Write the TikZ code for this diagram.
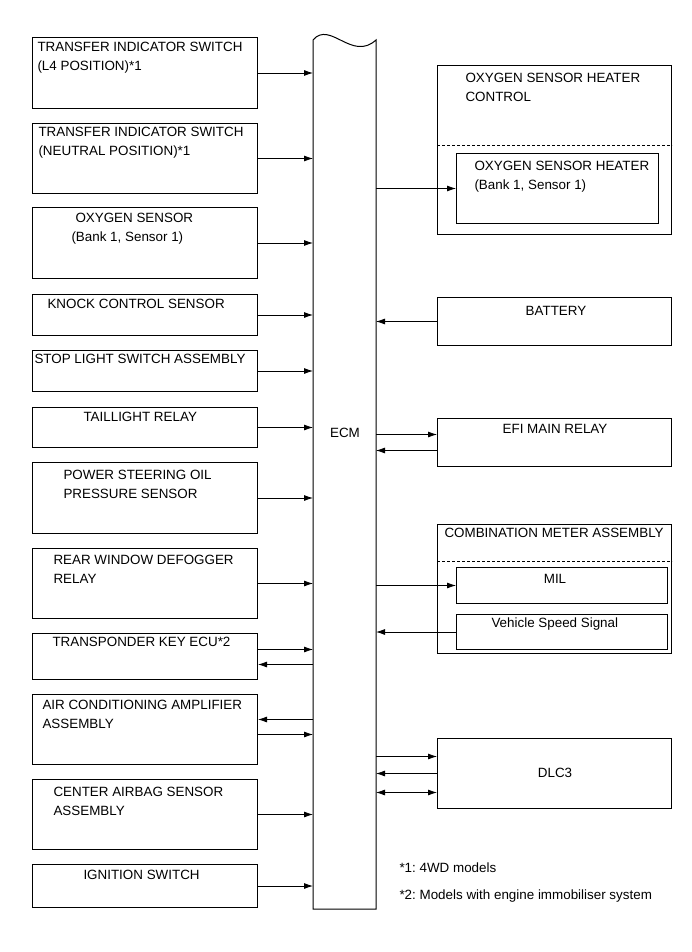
\documentclass[tikz,border=0pt]{standalone}
\usepackage{fontspec}
\setmainfont{Liberation Sans}
\usetikzlibrary{arrows.meta}
\frenchspacing

\begin{document}
\begin{tikzpicture}[x=1pt, y=-1pt, line width=1pt,
  every node/.style={font=\fontsize{13.4}{18.5}\selectfont},
  unit/.style={draw, anchor=north west, inner sep=0, minimum width=225},
  runit/.style={draw, anchor=north west, inner sep=0, minimum width=234},
  subunit/.style={draw, anchor=north west, inner sep=0},
  txt/.style={anchor=north west, inner sep=0, align=left},
  ctxt/.style={anchor=north, inner sep=0},
  sig/.style={-{Latex[length=9pt,width=6pt]}, line width=0.8pt},
  sigboth/.style={{Latex[length=9pt,width=6pt]}-{Latex[length=9pt,width=6pt]}, line width=0.8pt},
  sep/.style={dash pattern=on 3pt off 2pt, line width=0.8pt}]
  \useasboundingbox (0,0) rectangle (691,952);

  % inputs on the left
  \node[unit, minimum height=71] (tisl4) at (32,37) {};
  \node[txt] (tisl4-t) at (37,42) {TRANSFER INDICATOR SWITCH\\(L4 POSITION)*1};
  \node[unit, minimum height=70] (tisn) at (32,123) {};
  \node[txt] (tisn-t) at (38,127) {TRANSFER INDICATOR SWITCH\\(NEUTRAL POSITION)*1};
  \node[unit, minimum height=71] (oxs) at (32,207) {};
  \node[txt] (oxs-t) at (71,213) {\hspace*{4pt}OXYGEN SENSOR\\(Bank 1, Sensor 1)};
  \node[unit, minimum height=41] (kcs) at (32,294) {};
  \node[txt] (kcs-t) at (47,299) {KNOCK CONTROL SENSOR};
  \node[unit, minimum height=41] (stop) at (32,350) {};
  \node[txt] (stop-t) at (34,354) {STOP LIGHT SWITCH ASSEMBLY};
  \node[unit, minimum height=40] (tail) at (32,407) {};
  \node[txt] (tail-t) at (83,412) {TAILLIGHT RELAY};
  \node[unit, minimum height=71] (pso) at (32,462) {};
  \node[txt] (pso-t) at (63,470) {POWER STEERING OIL\\PRESSURE SENSOR};
  \node[unit, minimum height=70] (defog) at (32,548) {};
  \node[txt] (defog-t) at (53,555) {REAR WINDOW DEFOGGER\\RELAY};
  \node[unit, minimum height=46] (tkey) at (32,633) {};
  \node[txt] (tkey-t) at (52,637) {TRANSPONDER KEY ECU*2};
  \node[unit, minimum height=70] (acamp) at (32,694) {};
  \node[txt] (acamp-t) at (42,700) {AIR CONDITIONING AMPLIFIER\\ASSEMBLY};
  \node[unit, minimum height=70] (airbag) at (32,779) {};
  \node[txt] (airbag-t) at (53,787) {CENTER AIRBAG SENSOR\\ASSEMBLY};
  \node[unit, minimum height=43] (ign) at (32,864) {};
  \node[txt] (ign-t) at (83,870) {IGNITION SWITCH};

  % ECM with torn top
  \node[inner sep=0, minimum width=62, minimum height=868, anchor=north west] (ecm) at (313,40) {};
  \draw (ecm.south west) -- (ecm.north west) .. controls (330,20) and (352,62) .. (ecm.north east)
    -- (ecm.south east) -- cycle;
  \node (ecm-t) at (345,433) {ECM};

  \foreach \b in {tisl4,tisn,oxs,kcs,stop,tail,pso,defog,airbag,ign}
    \draw[sig] (\b.east) -- (\b.east -| ecm.west);
  \draw[sig] ([yshift=7pt]tkey.east) -- ([yshift=7pt]tkey.east -| ecm.west);
  \draw[sig] ([yshift=-8pt]tkey.east -| ecm.west) -- ([yshift=-8pt]tkey.east);
  \draw[sig] ([yshift=10pt]acamp.east -| ecm.west) -- ([yshift=10pt]acamp.east);
  \draw[sig] ([yshift=-5pt]acamp.east) -- ([yshift=-5pt]acamp.east -| ecm.west);

  % outputs on the right
  \node[runit, minimum height=169] (ohc) at (437,65) {};
  \node[txt] (ohc-t) at (465,73) {OXYGEN SENSOR HEATER\\CONTROL};
  \draw[sep] (ohc.west |- 0,145) -- (ohc.east |- 0,145);
  \node[subunit, minimum width=202, minimum height=70] (oht) at (456,153) {};
  \node[txt] (oht-t) at (474,161) {OXYGEN SENSOR HEATER\\(Bank 1, Sensor 1)};
  \draw[sig] (oht.west -| ecm.east) -- (oht.west);

  \node[runit, minimum height=48] (batt) at (437,297) {};
  \node[ctxt] (batt-t) at (556,306) {BATTERY};
  \draw[sig] (batt.west) -- (batt.west -| ecm.east);

  \node[runit, minimum height=48] (efi) at (437,418) {};
  \node[ctxt] (efi-t) at (555,424) {EFI MAIN RELAY};
  \draw[sig] ([yshift=8pt]efi.west -| ecm.east) -- ([yshift=8pt]efi.west);
  \draw[sig] ([yshift=-8pt]efi.west) -- ([yshift=-8pt]efi.west -| ecm.east);

  \node[runit, minimum height=129] (combi) at (437,524) {};
  \node[txt] (combi-t) at (444,528) {COMBINATION METER ASSEMBLY};
  \draw[sep] (combi.west |- 0,561) -- (combi.east |- 0,561);
  \node[subunit, minimum width=211, minimum height=36] (mil) at (456,567) {};
  \node[ctxt] (mil-t) at (555,574) {MIL};
  \draw[sig] (mil.west -| ecm.east) -- (mil.west);
  \node[subunit, minimum width=211, minimum height=35] (vss) at (456,614) {};
  \node[txt] (vss-t) at (491,617) {Vehicle Speed Signal};
  \draw[sig] (vss.west) -- (vss.west -| ecm.east);

  \node[runit, minimum height=70] (dlc) at (437,738) {};
  \node (dlc-t) at (555,773) {DLC3};
  \draw[sig] ([yshift=17pt]dlc.west -| ecm.east) -- ([yshift=17pt]dlc.west);
  \draw[sig] (dlc.west) -- (dlc.west -| ecm.east);
  \draw[sigboth] ([yshift=-19pt]dlc.west -| ecm.east) -- ([yshift=-19pt]dlc.west);

  % notes
  \node[txt] (fn1) at (399,862) {*1: 4WD models};
  \node[txt] (fn2) at (399,889) {*2: Models with engine immobiliser system};
\end{tikzpicture}
\end{document}
